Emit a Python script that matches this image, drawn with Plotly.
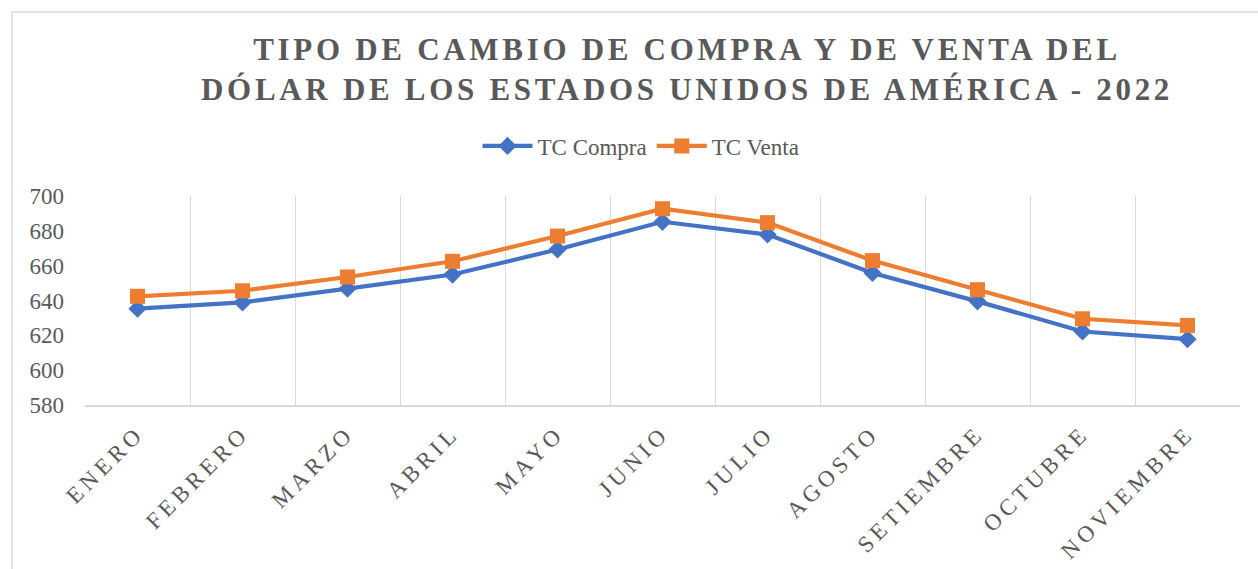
import plotly.graph_objects as go

meses = ["ENERO", "FEBRERO", "MARZO", "ABRIL", "MAYO", "JUNIO", "JULIO",
         "AGOSTO", "SETIEMBRE", "OCTUBRE", "NOVIEMBRE"]
tc_compra = [635.3, 638.9, 646.8, 654.9, 669.3, 685.2, 677.9, 655.8, 639.5, 622.2, 617.8]
tc_venta = [642.4, 645.6, 653.5, 662.5, 677.0, 692.7, 684.7, 662.9, 646.2, 629.5, 625.7]
y_ticks = [580, 600, 620, 640, 660, 680, 700]

GRAY = "#595959"
GRID = "#d9d9d9"
SERIF = "Liberation Serif, Times New Roman, serif"

W, H = 1258, 569
L, R, T, B = 85, 18, 196, 164
plot_w = W - L - R
plot_h = H - T - B


def px_x(x):
    return (x - L) / plot_w


def px_y(y):
    return (H - B - y) / plot_h


fig = go.Figure()
fig.add_trace(go.Scatter(
    x=meses, y=tc_compra, name="TC Compra", mode="lines+markers",
    line=dict(color="#4472C4", width=4.2),
    marker=dict(symbol="diamond", size=14, color="#4472C4"),
))
fig.add_trace(go.Scatter(
    x=meses, y=tc_venta, name="TC Venta", mode="lines+markers",
    line=dict(color="#ED7D31", width=4.2),
    marker=dict(symbol="square", size=15, color="#ED7D31"),
))

title_html = ('<span style="letter-spacing:3.7px">TIPO DE CAMBIO DE COMPRA Y DE VENTA DEL</span><br>'
              '<span style="letter-spacing:3.7px">DÓLAR DE LOS ESTADOS UNIDOS DE AMÉRICA - 2022</span>')

fig.update_layout(
    width=W, height=H, autosize=False,
    margin=dict(l=L, r=R, t=T, b=B, autoexpand=False),
    paper_bgcolor="white", plot_bgcolor="white",
    font=dict(family=SERIF, color=GRAY, size=23),
    showlegend=True,
    legend=dict(
        orientation="h",
        x=px_x(641), xanchor="center", y=px_y(146), yanchor="middle",
        font=dict(family=SERIF, size=23, color=GRAY),
        itemwidth=50,
    ),
    xaxis=dict(
        type="category", tickson="boundaries", automargin=False,
        range=[-0.5, len(meses) - 0.5],
        showgrid=True, gridcolor=GRID, gridwidth=1.3,
        showline=True, linecolor=GRID, linewidth=1.5,
        ticks="", tickangle=-45,
        tickvals=meses,
        ticktext=['<span style="letter-spacing:4.5px">%s</span>' % m for m in meses],
        tickfont=dict(family=SERIF, size=23, color=GRAY),
        ticklabelstandoff=4,
    ),
    yaxis=dict(
        range=[580, 700], tickvals=y_ticks, showgrid=False, zeroline=False,
        showline=False, ticks="", ticklabelstandoff=20, automargin=False,
        tickfont=dict(family=SERIF, size=23, color=GRAY),
    ),
    annotations=[dict(
        text=title_html, xref="paper", yref="paper",
        x=px_x(687), y=px_y(70),
        xanchor="center", yanchor="middle", showarrow=False,
        font=dict(family=SERIF, size=31, color=GRAY, weight="bold"),
        align="center",
    )],
    shapes=[dict(
        type="rect", xref="paper", yref="paper",
        x0=px_x(12), x1=3, y0=-3, y1=px_y(12),
        line=dict(color=GRID, width=1.5), fillcolor="rgba(0,0,0,0)", layer="below",
    )],
)

fig.write_html(
    "out.html",
    config={"displayModeBar": False},
    post_script="document.body.style.margin='0';document.body.style.overflow='hidden';",
)
